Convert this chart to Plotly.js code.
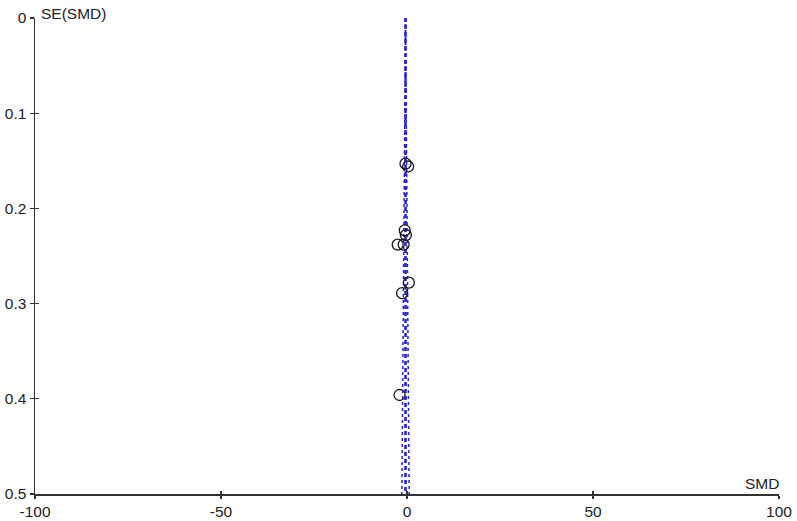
<!DOCTYPE html>
<html>
<head>
<meta charset="utf-8">
<script src="https://cdn.plot.ly/plotly-3.0.1.min.js"></script>
<style>html,body{margin:0;padding:0;background:#fff;}#chart{width:797px;height:521px;}</style>
</head>
<body>
<div id="chart"></div>
<script>
// Study estimates (SMD) and their standard errors
const studySMD = [-0.4, 0.3, -0.6, -0.3, -0.9, -2.5, 0.5, -1.3, -2.0];
const studySE  = [0.153, 0.156, 0.223, 0.228, 0.238, 0.238, 0.278, 0.289, 0.396];

// Pooled estimate line and pseudo 95% confidence limits
const pooledX = [-0.4, -0.4];
const pooledY = [0, 0.5];
const lowerX  = [-0.4, -1.38];
const upperX  = [-0.4, 0.58];
const limitY  = [0, 0.5];

const xTicks = [-100, -50, 0, 50, 100];
const yTicks = [0, 0.1, 0.2, 0.3, 0.4, 0.5];

const blue = '#2323dc';
const axisColor = '#333333';
const font = {family: 'Liberation Sans, Arial, sans-serif', size: 15.5, color: '#222222'};

const traces = [
  {x: lowerX, y: limitY, mode: 'lines', line: {color: blue, width: 1.5, dash: '3px,3px'}, hoverinfo: 'skip'},
  {x: upperX, y: limitY, mode: 'lines', line: {color: blue, width: 1.5, dash: '3px,3px'}, hoverinfo: 'skip'},
  {x: pooledX, y: pooledY, mode: 'lines', line: {color: blue, width: 2.6, dash: '4px,3px'}, hoverinfo: 'skip'},
  {x: studySMD, y: studySE, mode: 'markers',
   marker: {symbol: 'circle-open', size: 11, color: '#1a1a1a', line: {width: 1.3, color: '#1a1a1a'}}},
  {x: [0], y: [0.25], xaxis: 'x2', yaxis: 'y2', mode: 'markers', marker: {opacity: 0}, hoverinfo: 'skip'}
];

const layout = {
  width: 797, height: 521,
  margin: {l: 35, r: 18, t: 18, b: 27},
  paper_bgcolor: '#ffffff', plot_bgcolor: '#ffffff',
  showlegend: false,
  font: font,
  xaxis: {
    range: [-100, 100], tickvals: xTicks, ticktext: xTicks.map(String),
    showgrid: false, zeroline: false, showline: true, linecolor: axisColor, linewidth: 1.5,
    ticks: 'outside', ticklen: 3, tickwidth: 1.2, tickcolor: axisColor, tickfont: font
  },
  yaxis: {
    range: [0.5, 0], tickvals: yTicks, ticktext: yTicks.map(String),
    showgrid: false, zeroline: false, showline: true, linecolor: axisColor, linewidth: 1.5,
    ticks: 'outside', ticklen: 4, tickwidth: 1.2, tickcolor: axisColor, tickfont: font
  },
  xaxis2: {
    range: [-100, 100], tickvals: xTicks, overlaying: 'x', showticklabels: false,
    showgrid: false, zeroline: false, showline: false,
    ticks: 'inside', ticklen: 3, tickwidth: 1.2, tickcolor: axisColor
  },
  yaxis2: {
    range: [0.5, 0], tickvals: yTicks, overlaying: 'y', showticklabels: false,
    showgrid: false, zeroline: false, showline: false,
    ticks: 'inside', ticklen: 4, tickwidth: 1.2, tickcolor: axisColor
  },
  annotations: [
    {text: 'SE(SMD)', xref: 'paper', yref: 'paper', x: 0, y: 1, xanchor: 'left', yanchor: 'middle',
     xshift: 4, yshift: 5, showarrow: false, font: font},
    {text: 'SMD', xref: 'paper', yref: 'paper', x: 1, y: 0, xanchor: 'right', yanchor: 'bottom',
     xshift: 2, yshift: 0, showarrow: false, font: font}
  ]
};

Plotly.newPlot('chart', traces, layout, {displayModeBar: false, staticPlot: true});
</script>
</body>
</html>
